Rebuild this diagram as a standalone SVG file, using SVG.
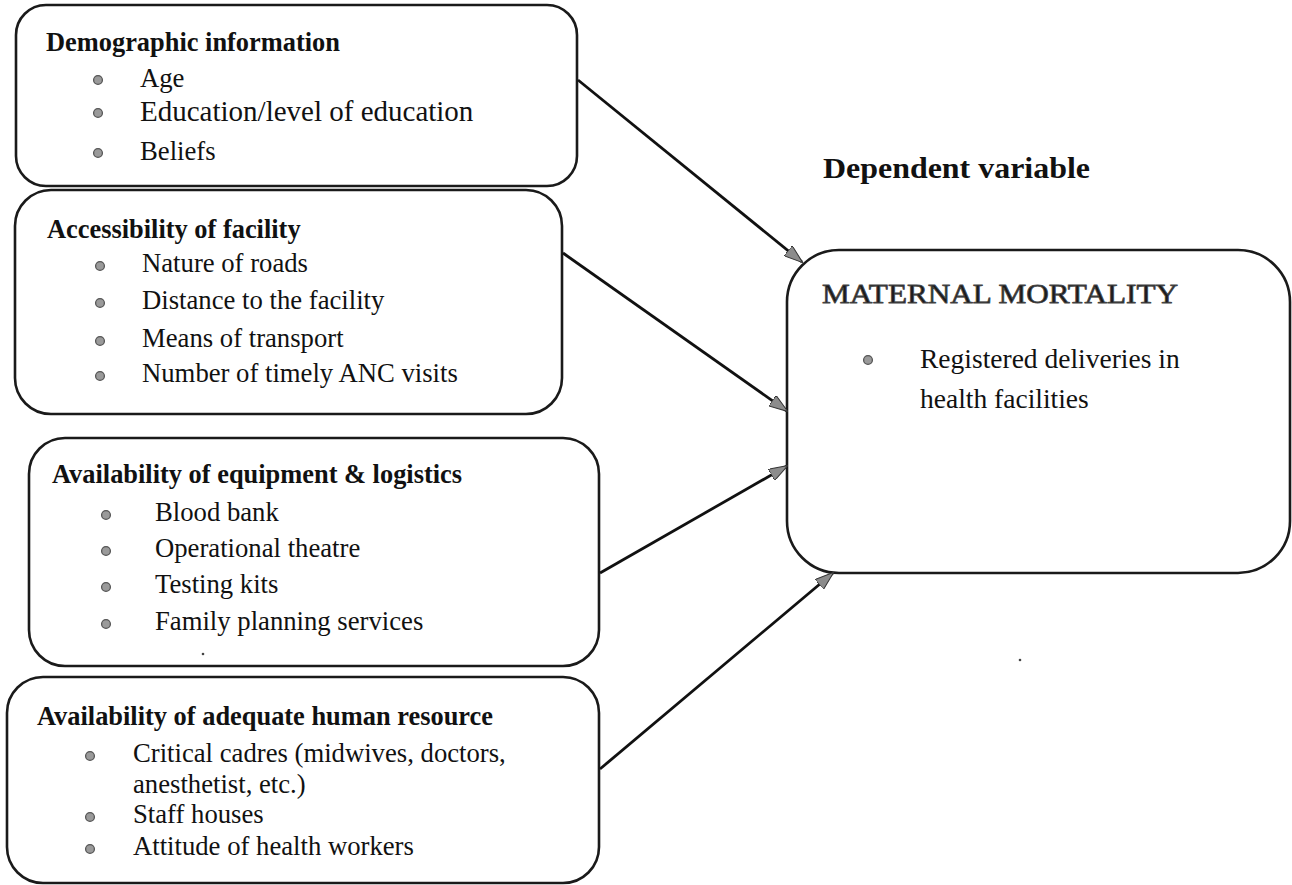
<svg xmlns="http://www.w3.org/2000/svg" width="1292" height="885" viewBox="0 0 1292 885">
  <defs>
    <style>
      .box { fill: #ffffff; stroke: #1a1a1a; stroke-width: 2.6; }
      .head { font-family: "Liberation Serif", "Times New Roman", serif; font-weight: bold; font-size: 26.4px; fill: #111; }
      .item { font-family: "Liberation Serif", "Times New Roman", serif; font-size: 26.7px; fill: #111; }
      .big { font-family: "Liberation Serif", "Times New Roman", serif; font-size: 27.5px; fill: #111; }
      .title { font-family: "Liberation Serif", "Times New Roman", serif; font-size: 28px; fill: #1a1a1a; stroke: #444; stroke-width: 0.8; }
      .dep { font-family: "Liberation Serif", "Times New Roman", serif; font-weight: bold; font-size: 29px; fill: #111; }
      .bullet { fill: #9a9a9a; stroke: #555; stroke-width: 1.3; }
      .link { fill: none; stroke: #111; stroke-width: 2.8; marker-end: url(#arrow); }
      .speck { fill: #444; }
    </style>
    <marker id="arrow" viewBox="0 0 19 13" refX="18" refY="6.5" markerWidth="19" markerHeight="13" orient="auto" markerUnits="userSpaceOnUse">
      <path d="M0,0 L19,6.5 L0,13 Z" fill="#8c8c8c" stroke="#333" stroke-width="1"/>
    </marker>
  </defs>

  <rect width="1292" height="885" fill="#ffffff"/>

  <!-- independent factor: demographics -->
  <g id="demographic">
    <rect class="box" x="16" y="5" width="561" height="181" rx="30" ry="30"/>
    <text class="head" x="46" y="51">Demographic information</text>
    <circle class="bullet" cx="98" cy="80" r="4.4"/>
    <text class="item" x="140" y="87">Age</text>
    <circle class="bullet" cx="98" cy="113" r="4.4"/>
    <text class="item" x="140" y="121" style="font-size:29px">Education/level of education</text>
    <circle class="bullet" cx="98" cy="153" r="4.4"/>
    <text class="item" x="140" y="160">Beliefs</text>
  </g>

  <!-- independent factor: access -->
  <g id="accessibility">
    <rect class="box" x="15" y="190" width="547" height="224" rx="36" ry="36"/>
    <text class="head" x="47" y="238">Accessibility of facility</text>
    <circle class="bullet" cx="100" cy="266" r="4.4"/>
    <text class="item" x="142" y="272">Nature of roads</text>
    <circle class="bullet" cx="100" cy="303" r="4.4"/>
    <text class="item" x="142" y="309">Distance to the facility</text>
    <circle class="bullet" cx="100" cy="341" r="4.4"/>
    <text class="item" x="142" y="347">Means of transport</text>
    <circle class="bullet" cx="100" cy="376" r="4.4"/>
    <text class="item" x="142" y="382">Number of timely ANC visits</text>
  </g>

  <!-- independent factor: equipment -->
  <g id="equipment">
    <rect class="box" x="29" y="438" width="570" height="228" rx="36" ry="36"/>
    <text class="head" x="52" y="483">Availability of equipment &amp; logistics</text>
    <circle class="bullet" cx="106" cy="515" r="4.4"/>
    <text class="item" x="155" y="521">Blood bank</text>
    <circle class="bullet" cx="106" cy="551" r="4.4"/>
    <text class="item" x="155" y="557">Operational theatre</text>
    <circle class="bullet" cx="106" cy="587" r="4.4"/>
    <text class="item" x="155" y="593">Testing kits</text>
    <circle class="bullet" cx="106" cy="624" r="4.4"/>
    <text class="item" x="155" y="630">Family planning services</text>
    <circle class="speck" cx="203" cy="654" r="1.3"/>
  </g>

  <!-- independent factor: staffing -->
  <g id="human-resource">
    <rect class="box" x="7" y="677" width="592" height="206" rx="36" ry="36"/>
    <text class="head" x="37" y="725">Availability of adequate human resource</text>
    <circle class="bullet" cx="90" cy="756" r="4.4"/>
    <text class="item" x="133" y="762">Critical cadres (midwives, doctors,</text>
    <text class="item" x="133" y="793">anesthetist, etc.)</text>
    <circle class="bullet" cx="90" cy="817" r="4.4"/>
    <text class="item" x="133" y="823">Staff houses</text>
    <circle class="bullet" cx="90" cy="849" r="4.4"/>
    <text class="item" x="133" y="855">Attitude of health workers</text>
  </g>

  <!-- heading over the outcome -->
  <g id="dependent-label">
    <text class="dep" x="823" y="178" textLength="267" lengthAdjust="spacingAndGlyphs">Dependent variable</text>
  </g>

  <!-- outcome -->
  <g id="maternal-mortality">
    <rect class="box" x="787" y="250" width="503" height="323" rx="52" ry="52"/>
    <text class="title" x="822" y="303" textLength="356" lengthAdjust="spacingAndGlyphs">MATERNAL MORTALITY</text>
    <circle class="bullet" cx="868" cy="360" r="4.4"/>
    <text class="big" x="920" y="368">Registered deliveries in</text>
    <text class="big" x="920" y="408">health facilities</text>
  </g>

  <circle class="speck" cx="1020" cy="660" r="1.3"/>

  <!-- factor -> outcome arrows -->
  <g id="connectors">
    <line class="link" x1="578" y1="80" x2="802" y2="262"/>
    <line class="link" x1="563" y1="253" x2="787" y2="411"/>
    <line class="link" x1="600" y1="573" x2="787" y2="466"/>
    <line class="link" x1="600" y1="769" x2="833" y2="573"/>
  </g>
</svg>
